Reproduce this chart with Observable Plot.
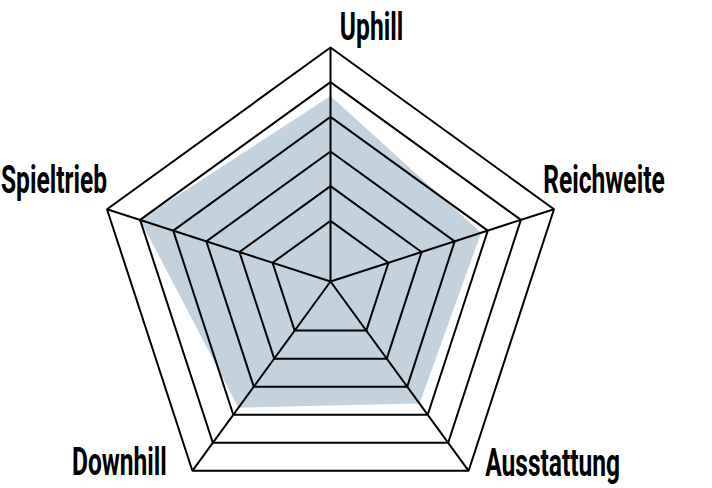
<!DOCTYPE html>
<html>
<head>
<meta charset="utf-8">
<script src="https://cdn.jsdelivr.net/npm/d3@7"></script>
<script src="https://cdn.jsdelivr.net/npm/@observablehq/plot@0.6"></script>
<style>
  html, body { margin: 0; padding: 0; background: #fff; }
  #chart svg { display: block; }
</style>
</head>
<body>
<div id="chart"></div>
<script>
// ---- data ----
const axes = ["Uphill", "Reichweite", "Ausstattung", "Downhill", "Spieltrieb"];
const values = [4.6, 3.8, 3.6, 3.75, 5.0];
const levels = [1, 2, 3, 4, 5, 6];
const radialDomain = [-0.75, 6]; // value at centre, value at outer ring

// ---- geometry helpers (data -> unit coordinates) ----
const rad = d3.scaleLinear().domain(radialDomain).range([0, 1]);
const angle = (i) => (2 * Math.PI * i) / axes.length;
const px = (i, v) => rad(v) * Math.sin(angle(i));
const py = (i, v) => rad(v) * Math.cos(angle(i));

const rings = levels.flatMap((lv) =>
  [...axes, axes[0]].map((a, j) => ({level: lv, x: px(j % axes.length, lv), y: py(j % axes.length, lv)}))
);
const spokes = axes.map((a, i) => ({x1: 0, y1: 0, x2: px(i, radialDomain[1]), y2: py(i, radialDomain[1])}));
const shape = axes.map((a, i) => ({axis: a, x: px(i, values[i]), y: py(i, values[i])}));
const outer = axes.map((a, i) => ({label: a, x: px(i, radialDomain[1]), y: py(i, radialDomain[1])}));

// label placement offsets (layout)
const labelLayout = {
  "Uphill": [41, -8],
  "Reichweite": [50, -16],
  "Ausstattung": [84, 5],
  "Downhill": [-73, 4],
  "Spieltrieb": [-53, -16]
};

const font = "Roboto, 'Liberation Sans', sans-serif";

const plot = Plot.plot({
  width: 712,
  height: 488,
  margin: 0,
  x: {domain: [-1, 1], range: [95, 565], axis: null},
  y: {domain: [-1, 1], range: [515, 47], axis: null},
  style: {background: "#fff", overflow: "visible"},
  marks: [
    Plot.line(shape, {x: "x", y: "y", fill: "#c4d2de", stroke: "none", curve: "linear-closed"}),
    Plot.line(rings, {x: "x", y: "y", z: "level", stroke: "#000", strokeWidth: 2, strokeLinejoin: "miter"}),
    Plot.link(spokes, {x1: "x1", y1: "y1", x2: "x2", y2: "y2", stroke: "#000", strokeWidth: 2}),
    ...outer.map((d) =>
      Plot.text([d], {
        x: "x", y: "y", text: "label",
        dx: labelLayout[d.label][0], dy: labelLayout[d.label][1],
        textAnchor: "middle", lineAnchor: "bottom",
        fontFamily: font, fontWeight: 700, fontSize: 39, fill: "#000"
      })
    )
  ]
});

// condense the label glyphs horizontally around their anchor
plot.querySelectorAll("text").forEach((t) => {
  const x = +(t.getAttribute("x") || 0);
  const tr = t.getAttribute("transform") || "";
  t.setAttribute("transform", `${tr} translate(${x},0) scale(0.63,1) translate(${-x},0)`);
});

document.getElementById("chart").appendChild(plot);
</script>
</body>
</html>
